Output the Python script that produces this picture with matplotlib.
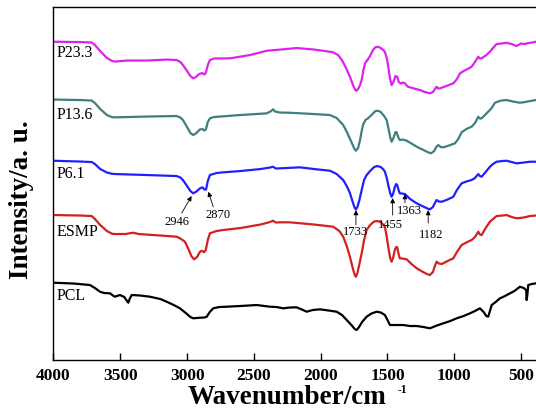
import numpy as np
import matplotlib.pyplot as plt

plt.rcParams['font.family'] = 'Liberation Serif'

# FTIR spectra (wavenumber in cm-1, intensity in a.u.)
wn_p233 = [4000, 3800, 3714, 3690, 3650, 3600, 3560, 3540, 3450, 3300, 3150, 3078, 3050,
           3031, 3000, 2975, 2954, 2935, 2910, 2885, 2872, 2860, 2845, 2829, 2800, 2679,
           2529, 2404, 2300, 2180, 2050, 1983, 1906, 1870, 1841, 1810, 1781, 1755, 1740,
           1731, 1720, 1705, 1693, 1680, 1668, 1650, 1630, 1609, 1590, 1571, 1550, 1530,
           1519, 1505, 1494, 1480, 1469, 1455, 1440, 1427, 1415, 1400, 1385, 1369, 1347,
           1300, 1257, 1220, 1182, 1160, 1145, 1132, 1120, 1107, 1060, 1007, 980, 957, 930,
           900, 870, 850, 820, 808, 795, 760, 733, 710, 683, 650, 608, 570, 533, 500, 470,
           458, 420, 388]
int_p233 = [318.3, 318, 317.5, 315, 309, 302, 299, 298.5, 299.5, 299.5, 300.5, 300, 298,
            295, 289, 284, 281.7, 283, 286, 287, 285.5, 287, 295, 300, 301.5, 301.7,
            305, 309.3, 310.5, 312, 310.5, 309.3, 307.7, 305, 300, 292, 283.3, 274, 270,
            269.3, 271, 275, 280, 290, 296.7, 300, 304, 310, 312.8, 313.3, 312, 310,
            308, 302, 293.3, 281, 275, 278, 284, 283.3, 278, 276.5, 277.5, 276.7, 273.3,
            271.5, 270, 268, 266.7, 268, 271, 273.3, 271.5, 271.7, 274, 276.7, 281, 286.7, 289,
            291, 293.3, 297, 303.3, 301.5, 301.7, 305, 308.3, 312, 316, 316.5, 317.3, 316, 314,
            316.5, 316, 316.7, 317.5, 318.3]

wn_p136 = [4000, 3800, 3714, 3690, 3650, 3600, 3560, 3540, 3300, 3078, 3050, 3031, 3000,
           2975, 2954, 2930, 2905, 2885, 2870, 2858, 2845, 2829, 2800, 2604, 2404, 2370,
           2357, 2340, 2305, 2230, 2050, 1930, 1880, 1831, 1800, 1770, 1750, 1736, 1720,
           1705, 1693, 1683, 1665, 1646, 1620, 1590, 1571, 1550, 1525, 1506, 1490, 1478,
           1469, 1455, 1440, 1431, 1420, 1407, 1385, 1356, 1320, 1281, 1230, 1200, 1175,
           1150, 1135, 1120, 1100, 1082, 1040, 995, 970, 945, 910, 870, 845, 820, 808, 795,
           770, 746, 720, 695, 650, 608, 560, 508, 470, 433, 388]
int_p136 = [260.5, 260, 259.5, 257, 251, 245, 242.8, 242.7, 243.5, 244, 242.5, 240, 233,
            227, 225, 227, 230.5, 231, 229.5, 231, 238, 241.7, 243, 245, 246.7, 249,
            250.7, 248.5, 247.5, 247.3, 246, 245, 242, 235, 227, 218, 212, 209.3, 212,
            220, 229, 235, 240, 241.7, 245, 249, 249.3, 248, 244, 240, 230, 222,
            218.3, 222, 228, 227.7, 223, 220, 220.5, 219.3, 216.5, 213.3, 210, 208, 206.7,
            209, 213, 215, 213, 212.7, 214.5, 216.7, 221, 227.7, 231, 233.3, 237, 243.3, 241.5,
            241.7, 245, 248.3, 252, 257.3, 259.5, 260, 258.5, 257.3, 258, 259, 260]

wn_p61 = [4000, 3800, 3714, 3690, 3650, 3600, 3560, 3540, 3300, 3078, 3050, 3031, 3000,
          2975, 2954, 2930, 2905, 2885, 2870, 2858, 2845, 2829, 2780, 2731, 2600, 2450,
          2380, 2357, 2335, 2305, 2155, 2050, 1930, 1880, 1831, 1805, 1781, 1760, 1745,
          1736, 1725, 1710, 1693, 1675, 1656, 1630, 1600, 1577, 1550, 1530, 1519, 1505,
          1494, 1480, 1469, 1458, 1445, 1435, 1427, 1415, 1407, 1390, 1369, 1330, 1281,
          1240, 1200, 1182, 1160, 1145, 1132, 1115, 1094, 1050, 1007, 980, 945, 910, 870,
          845, 820, 808, 795, 765, 733, 710, 683, 640, 608, 570, 533, 480, 433, 388]
int_p61 = [199.3, 198.5, 198, 196, 191, 187.5, 186.2, 186, 185, 184, 182.5, 180, 174,
           169, 166.7, 168.5, 171.5, 172.7, 170.5, 170.5, 179, 185, 187, 187.7, 189, 191,
           192.5, 193.3, 191.5, 191.7, 192.7, 191, 189.3, 186, 180, 174, 167, 158, 152,
           150.7, 153, 160, 170, 180, 185, 189, 193, 194, 193, 190.5, 188.3, 182,
           175, 167, 163.3, 166, 173, 176, 175, 169, 166.7, 166.5, 166, 161, 156.7,
           154, 151.5, 150.7, 153, 157, 160, 158.5, 158.3, 160.5, 163.3, 170, 176.7, 178.5, 180,
           182, 186, 184, 183.3, 188, 193.3, 196, 198.3, 199, 199.3, 198, 196.7, 197.5, 198.3, 198.3]

wn_esmp = [4000, 3800, 3714, 3690, 3650, 3600, 3560, 3540, 3460, 3405, 3360, 3200, 3078,
           3050, 3016, 2990, 2968, 2948, 2925, 2905, 2891, 2880, 2873, 2860, 2845, 2829,
           2780, 2731, 2600, 2450, 2380, 2357, 2335, 2305, 2230, 2050, 1906, 1860, 1831,
           1805, 1781, 1760, 1745, 1736, 1725, 1710, 1693, 1675, 1656, 1630, 1600, 1577,
           1550, 1530, 1519, 1505, 1494, 1480, 1469, 1458, 1445, 1435, 1427, 1415, 1407,
           1390, 1356, 1320, 1281, 1240, 1200, 1182, 1160, 1145, 1132, 1115, 1094, 1050,
           1007, 980, 945, 910, 870, 845, 820, 808, 795, 765, 733, 710, 683, 640, 608, 570,
           533, 480, 433, 388]
int_esmp = [145, 144.5, 144, 141, 135, 129, 126.2, 126, 126, 127.3, 126, 124.5, 123.3,
            121.5, 118.3, 111, 104, 100.7, 103, 108, 109.3, 108.5, 107.7, 110, 120, 126.7,
            129, 130, 132, 135.5, 138, 139.3, 137.5, 137.7, 137.7, 135.5, 133.3, 129, 123.3,
            114, 103.3, 92, 85, 83.3, 87, 96, 106.7, 120, 130, 135, 138.5, 139,
            138, 135, 133.3, 123, 113.3, 102, 98.3, 102, 110, 113, 112.7, 105, 101.7,
            101.5, 100.7, 96, 91.7, 88.5, 85.7, 85, 88, 94, 98.3, 96.5, 96, 99,
            101.7, 108, 115, 117.5, 120, 123, 128.3, 125.5, 125, 132, 138.3, 141, 144, 144.5, 145, 143,
            141.7, 142.5, 144, 144.5]

wn_pcl = [4000, 3850, 3727, 3690, 3652, 3620, 3577, 3555, 3540, 3515, 3502, 3470, 3450,
          3440, 3430, 3415, 3350, 3278, 3200, 3153, 3100, 3053, 3010, 2975, 2954, 2930,
          2903, 2870, 2853, 2830, 2804, 2760, 2704, 2604, 2540, 2479, 2420, 2380, 2330,
          2280, 2230, 2180, 2140, 2105, 2060, 2005, 1940, 1880, 1840, 1805, 1770, 1745,
          1731, 1715, 1690, 1656, 1620, 1581, 1550, 1519, 1500, 1481, 1440, 1382, 1330,
          1281, 1230, 1182, 1130, 1082, 1030, 982, 930, 882, 845, 808, 780, 760, 746, 735,
          720, 690, 658, 620, 583, 550, 508, 480, 462, 458, 452, 446, 420, 388]
int_pcl = [77.3, 76.5, 75, 72, 68.3, 67, 66.7, 64.5, 63.3, 64.5, 65, 63, 59,
           57.3, 61, 65, 64.5, 63.3, 61, 58.3, 55, 51.7, 47, 43, 41.7, 42,
           42.3, 42.5, 43.3, 48, 51.7, 53, 53.3, 54, 54.5, 55, 54, 53.3, 53,
           51.7, 52.5, 52.7, 50.5, 48.3, 50, 50.7, 49.5, 48.3, 45, 40, 35, 31,
           30, 32.5, 38, 43.3, 46.5, 48.3, 47.5, 45, 40, 35, 35, 35, 34,
           34, 33, 31.7, 34.5, 36.7, 39, 41.7, 44, 46.7, 49, 51.7, 48, 44, 43.3, 48,
           55, 58, 61.7, 64, 66.7, 69, 73.3, 72, 70, 60, 66, 75, 76, 76.7]

names = ['P23.3', 'P13.6', 'P6.1', 'ESMP', 'PCL']
colors = ['#dd22ee', '#3f7f7f', '#2020ff', '#d42020', 'black']
label_y = [307, 245, 186, 128, 64]

# peak labels on the P6.1 curve: text, arrow tail, arrow tip, text position
peak_txt = ['2946', '2870', '1733', '1455', '1363', '1182']
peak_tail = [(3040, 147), (2804, 153.3), (1736, 135), (1461, 145), (1369, 157.3), (1195, 137)]
peak_tip = [(2966, 164), (2841, 168.3), (1736, 150), (1461, 162), (1369, 166), (1195, 150)]
peak_pos = [(3078, 138.3), (2766, 145), (1743, 128.3), (1481, 135), (1332, 149.3), (1169, 125)]

fig = plt.figure(figsize=(5.36, 4.15), dpi=100)
ax = fig.add_axes([0.0998, 0.1325, 0.9002, 0.8505])

series = [(wn_p233, int_p233), (wn_p136, int_p136), (wn_p61, int_p61),
          (wn_esmp, int_esmp), (wn_pcl, int_pcl)]
for (w, v), c in zip(series, colors):
    ax.plot(w, v, color=c, lw=1.6)

for n, y in zip(names, label_y):
    ax.text(3975, y, n, fontsize=11.5, va='center', ha='left')

for t, a, b, p in zip(peak_txt, peak_tail, peak_tip, peak_pos):
    ax.annotate('', xy=b, xytext=a,
                arrowprops=dict(arrowstyle='-|>', color='black', lw=0.6,
                                mutation_scale=7, shrinkA=0, shrinkB=0))
    ax.text(p[0], p[1], t, fontsize=9, ha='center', va='center')

ax.set_xlim(4000, 388)
ax.set_ylim(0, 353)
ax.set_xticks([4000, 3500, 3000, 2500, 2000, 1500, 1000, 500])
ax.set_yticks([])
ax.tick_params(axis='x', direction='in', length=5, width=1, labelsize=12.5, pad=6)
for lab in ax.get_xticklabels():
    lab.set_fontweight('bold')
ax.spines['right'].set_visible(False)
for s in ['left', 'top', 'bottom']:
    ax.spines[s].set_linewidth(1.0)

# axis titles placed by hand, the small superscript as its own text
fig.text(0.536, 0.043, 'Wavenumber/cm', fontsize=19.5, fontweight='bold', ha='center', va='center')
fig.text(0.751, 0.061, '-1', fontsize=8.5, fontweight='bold', ha='center', va='center')
fig.text(0.041, 0.52, 'Intensity/a. u.', fontsize=19.5, fontweight='bold', rotation=90,
         ha='center', va='center')

plt.savefig('out.png', dpi=100)
